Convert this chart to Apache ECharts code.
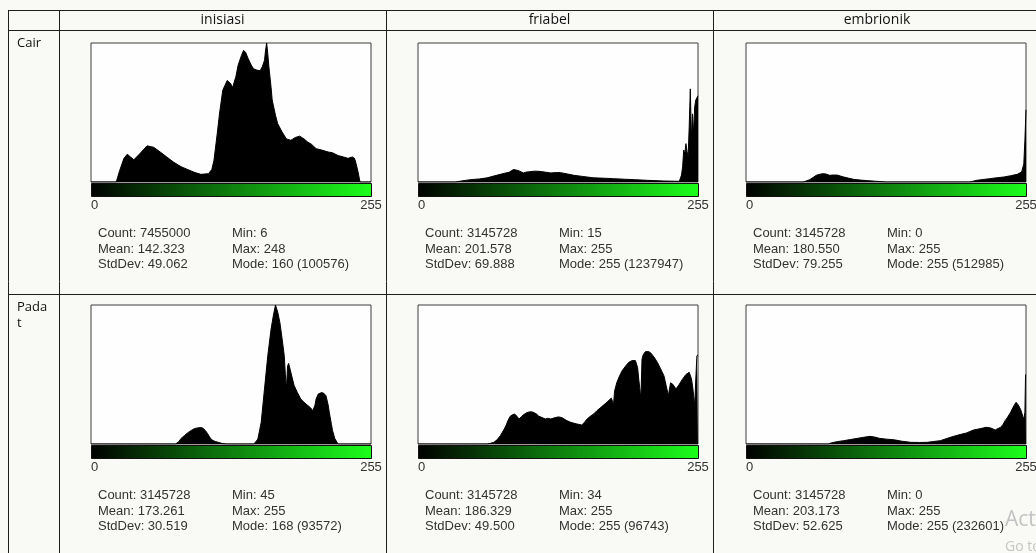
<!DOCTYPE html>
<html>
<head>
<meta charset="utf-8">
<script src="https://cdn.jsdelivr.net/npm/echarts@6.0.0/dist/echarts.min.js"></script>
<style>
html, body { margin: 0; padding: 0; background: #f9f9f6; }
#main { width: 1036px; height: 553px; }
</style>
</head>
<body>
<div id="main"></div>
<script>
// column / row headers of the table
var columns = ['inisiasi', 'friabel', 'embrionik'];
var rows = ['Cair', 'Padat'];

// histograms: [gray level, height in % of the plot]
var cairInisiasi = [[0,0],[23,0],[26,8],[30,17],[33,20],[36,18],[39,16],[44,20],[51,26],[57,25],[63,21.6],[69,18],[75,14.4],[82,11],[88,9],[94,7],[100,5.5],[107,6],[110,9],[112,15.6],[115,35],[117,49],[120,66],[124,73],[127,71],[129,68],[132,76],[134,84],[137,91],[139,94.7],[141,93],[143,89],[146,84],[148,81.5],[151,80.5],[154,80],[156,83],[158,87.5],[159,95],[160,100],[161,92],[162,83],[164,68],[165,59],[168,48],[170,42],[174,36],[178,31],[182,30],[186,32],[190,33],[194,31],[197,29],[201,27],[205,24],[210,23],[216,21.6],[220,21],[225,19],[230,18],[234,17],[238,18],[240,17],[241,14.4],[243,8],[245,0],[255,0]];
var cairFriabel = [[0,0],[34,0],[40,0.8],[48,1.7],[56,2.2],[63,3],[70,4.5],[75,5.5],[80,6.5],[83,7],[87,9],[90,8.5],[92,8],[96,6.5],[99,7.2],[102,7.4],[106,7.8],[110,7.7],[115,7.2],[121,6.5],[126,6.8],[130,6.7],[136,5.8],[142,4.8],[150,4],[160,3],[170,2.7],[178,2.4],[188,2],[197,1.7],[209,1.2],[224,0.7],[238,0.5],[240,5],[241,11],[242,23],[243,20],[244,27.6],[245,22],[246,18],[247,40],[248,67],[249,30],[250,49],[251,35],[252,54],[253,59],[254,60],[255,62]];
var cairEmbrionik = [[0,0],[52,0],[55,0.8],[58,1.7],[61,3.2],[64,4.8],[67,5.5],[70,6],[73,5.7],[76,4.8],[79,5],[83,5],[86,4.3],[89,3.6],[93,2.8],[98,1.9],[104,1.4],[110,1],[117,0.6],[124,0.2],[128,0],[204,0],[207,0.6],[210,1.2],[216,1.8],[222,2.4],[228,3],[235,3.6],[241,4.5],[247,5.5],[251,7.2],[253,13],[254,30],[255,52]];
var padatInisiasi = [[0,0],[77,0],[80,1.7],[82,4],[85,6],[88,8],[91,9.6],[94,11],[97,11.6],[100,11.8],[102,11.4],[104,9.8],[106,7.7],[108,5],[110,3],[113,1.8],[116,1.2],[119,0.5],[123,0],[148,0],[150,1.5],[152,3.6],[155,15.6],[158,39.6],[161,63.5],[164,82.7],[166,92],[168,100],[170,95],[172,87.5],[174,76],[176,63.5],[177,50],[178,39.6],[179,56],[180,58],[182,51.6],[185,42],[188,37],[191,32.4],[194,30],[197,28],[200,26],[202,24],[204,28],[205,32.4],[207,36],[210,37],[212,36.5],[214,34.8],[216,28],[217,22.8],[219,14],[220,9.6],[222,4],[225,0],[255,0]];
var padatFriabel = [[0,0],[63,0],[66,0.5],[69,1.2],[72,3],[75,6],[78,10],[80,13],[82,17],[84,20],[86,21],[88,21.6],[90,20],[92,18],[94,19.5],[96,21],[99,22.5],[101,23],[103,23.2],[105,22.8],[108,21.5],[110,20],[113,19],[116,18],[118,18.5],[121,18],[123,18.5],[125,19],[128,19.5],[131,19],[135,17],[139,15.6],[144,14.5],[149,13.7],[151,15],[154,18],[157,20],[160,21.6],[163,24],[166,26],[169,28],[172,30],[174,31.5],[176,33],[177,31],[178,27.6],[179,38],[181,44],[183,48],[186,52.8],[189,56],[192,58.8],[195,60],[198,60],[200,55],[201,46.8],[202,40],[203,32.4],[204,61],[205,64],[207,66.4],[210,66.5],[212,65.5],[215,62.5],[218,58.8],[221,54],[224,49],[226,42],[228,34.8],[230,44],[232,43],[235,39.6],[238,43],[241,46.8],[244,50],[247,51.6],[249,47],[250,42],[251,35],[252,27.6],[253,46.8],[254,63.5],[255,64]];
var padatEmbrionik = [[0,0],[75,0],[77,0.6],[80,1.2],[84,1.8],[89,2.4],[95,3.2],[101,4],[107,4.8],[113,5.5],[117,5],[122,4],[128,3.5],[135,3],[142,2],[150,1.2],[158,1.1],[165,1.2],[171,1.8],[177,2.4],[183,4],[189,5.5],[195,6.8],[201,8],[204,9],[207,10],[213,11],[219,12],[223,11.5],[227,10],[229,11],[232,12],[234,14],[236,16.8],[238,19],[241,22.8],[243,26],[244,27.6],[246,30],[247,29],[248,28],[250,25],[251,22.8],[252,20],[253,18],[254,22.8],[254.6,50],[255,50]];

// statistics printed under each histogram
var statsCairInisiasi = ['Count: 7455000', 'Mean: 142.323', 'StdDev: 49.062', 'Min: 6', 'Max: 248', 'Mode: 160 (100576)'];
var statsCairFriabel = ['Count: 3145728', 'Mean: 201.578', 'StdDev: 69.888', 'Min: 15', 'Max: 255', 'Mode: 255 (1237947)'];
var statsCairEmbrionik = ['Count: 3145728', 'Mean: 180.550', 'StdDev: 79.255', 'Min: 0', 'Max: 255', 'Mode: 255 (512985)'];
var statsPadatInisiasi = ['Count: 3145728', 'Mean: 173.261', 'StdDev: 30.519', 'Min: 45', 'Max: 255', 'Mode: 168 (93572)'];
var statsPadatFriabel = ['Count: 3145728', 'Mean: 186.329', 'StdDev: 49.500', 'Min: 34', 'Max: 255', 'Mode: 255 (96743)'];
var statsPadatEmbrionik = ['Count: 3145728', 'Mean: 203.173', 'StdDev: 52.625', 'Min: 0', 'Max: 255', 'Mode: 255 (232601)'];

var panels = [
	{ row: 0, col: 0, data: cairInisiasi, stats: statsCairInisiasi },
	{ row: 0, col: 1, data: cairFriabel, stats: statsCairFriabel },
	{ row: 0, col: 2, data: cairEmbrionik, stats: statsCairEmbrionik },
	{ row: 1, col: 0, data: padatInisiasi, stats: statsPadatInisiasi },
	{ row: 1, col: 1, data: padatFriabel, stats: statsPadatFriabel },
	{ row: 1, col: 2, data: padatEmbrionik, stats: statsPadatEmbrionik }
];

// layout
var colLeft = [91, 418, 746];
var rowTop = [43, 305];
var boxW = 280, boxH = 139;
var tableX = [8, 59, 386, 713];
var tableY = [10, 30, 294];
var statFont = '13px "Liberation Sans", Arial, sans-serif';
var cellFont = '14px "Open Sans", sans-serif';

var grids = [], xAxes = [], yAxes = [], series = [], graphics = [];

// table lines
for (var i = 0; i < tableY.length; i++) {
	graphics.push({ type: 'line', silent: true, z: 1,
		shape: { x1: tableX[0], y1: tableY[i] + 0.5, x2: 1036, y2: tableY[i] + 0.5 },
		style: { stroke: '#1e1e1e', lineWidth: 1 } });
}
for (var i = 0; i < tableX.length; i++) {
	graphics.push({ type: 'line', silent: true, z: 1,
		shape: { x1: tableX[i] + 0.5, y1: tableY[0], x2: tableX[i] + 0.5, y2: 553 },
		style: { stroke: '#1e1e1e', lineWidth: 1 } });
}
// headers
for (var c = 0; c < columns.length; c++) {
	var cx = c < 2 ? (tableX[c + 1] + tableX[c + 2]) / 2 : tableX[3] + 164;
	graphics.push({ type: 'text', silent: true, x: cx, y: 20.5,
		style: { text: columns[c], font: cellFont, fill: '#111', textAlign: 'center', textVerticalAlign: 'middle' } });
}
for (var r = 0; r < rows.length; r++) {
	graphics.push({ type: 'text', silent: true, x: 17, y: tableY[r + 1] + 5,
		style: { text: rows[r], font: '13px "Open Sans", sans-serif', fill: '#111', width: 34, overflow: 'breakAll', lineHeight: 16,
			textAlign: 'left', textVerticalAlign: 'top' } });
}

panels.forEach(function (p, i) {
	var left = colLeft[p.col], top = rowTop[p.row];
	grids.push({ left: left, top: top, width: boxW, height: boxH, show: true,
		backgroundColor: '#fefefe', borderColor: '#3c3c3c', borderWidth: 1, outerBoundsMode: 'none' });
	xAxes.push({ gridIndex: i, type: 'value', min: 0, max: 255, interval: 255,
		axisLine: { show: false }, axisTick: { show: false }, splitLine: { show: false },
		axisLabel: { margin: 17, fontSize: 13, color: '#333', fontFamily: '"Liberation Sans", Arial',
			showMinLabel: true, showMaxLabel: true, alignMinLabel: 'left' } });
	yAxes.push({ gridIndex: i, type: 'value', min: 0, max: 100, show: false });
	series.push({ type: 'line', xAxisIndex: i, yAxisIndex: i, data: p.data,
		symbol: 'none', silent: true, lineStyle: { color: '#000', width: 1 },
		areaStyle: { color: '#000', opacity: 1 } });

	// gray-level ramp under the histogram
	graphics.push({ type: 'rect', silent: true, z: 5,
		shape: { x: left + 0.5, y: top + boxH + 1.5, width: boxW, height: 13 },
		style: { stroke: '#111', lineWidth: 1,
			fill: new echarts.graphic.LinearGradient(0, 0, 1, 0, [
				{ offset: 0, color: '#000000' },
				{ offset: 1, color: '#1cff1c' }
			]) } });

	for (var k = 0; k < 6; k++) {
		graphics.push({ type: 'text', silent: true,
			x: left + (k < 3 ? 7 : 141), y: top + 190.5 + (k % 3) * 15.5,
			style: { text: p.stats[k], font: statFont, fill: '#333', textAlign: 'left', textVerticalAlign: 'middle' } });
	}
});

// screen watermark
graphics.push({ type: 'text', silent: true, x: 1005, y: 520,
	style: { text: 'Activate Windows', font: '21px "Open Sans", sans-serif', fill: '#c2c2c2', textVerticalAlign: 'middle' } });
graphics.push({ type: 'text', silent: true, x: 1005, y: 547,
	style: { text: 'Go to Settings to activate Windows.', font: '14px "Open Sans", sans-serif', fill: '#c6c6c6', textVerticalAlign: 'middle' } });

var myChart = echarts.init(document.getElementById('main'));
var option = {
	backgroundColor: '#f9f9f6',
	animation: false,
	grid: grids,
	xAxis: xAxes,
	yAxis: yAxes,
	series: series,
	graphic: graphics
};
myChart.setOption(option);
</script>
</body>
</html>
